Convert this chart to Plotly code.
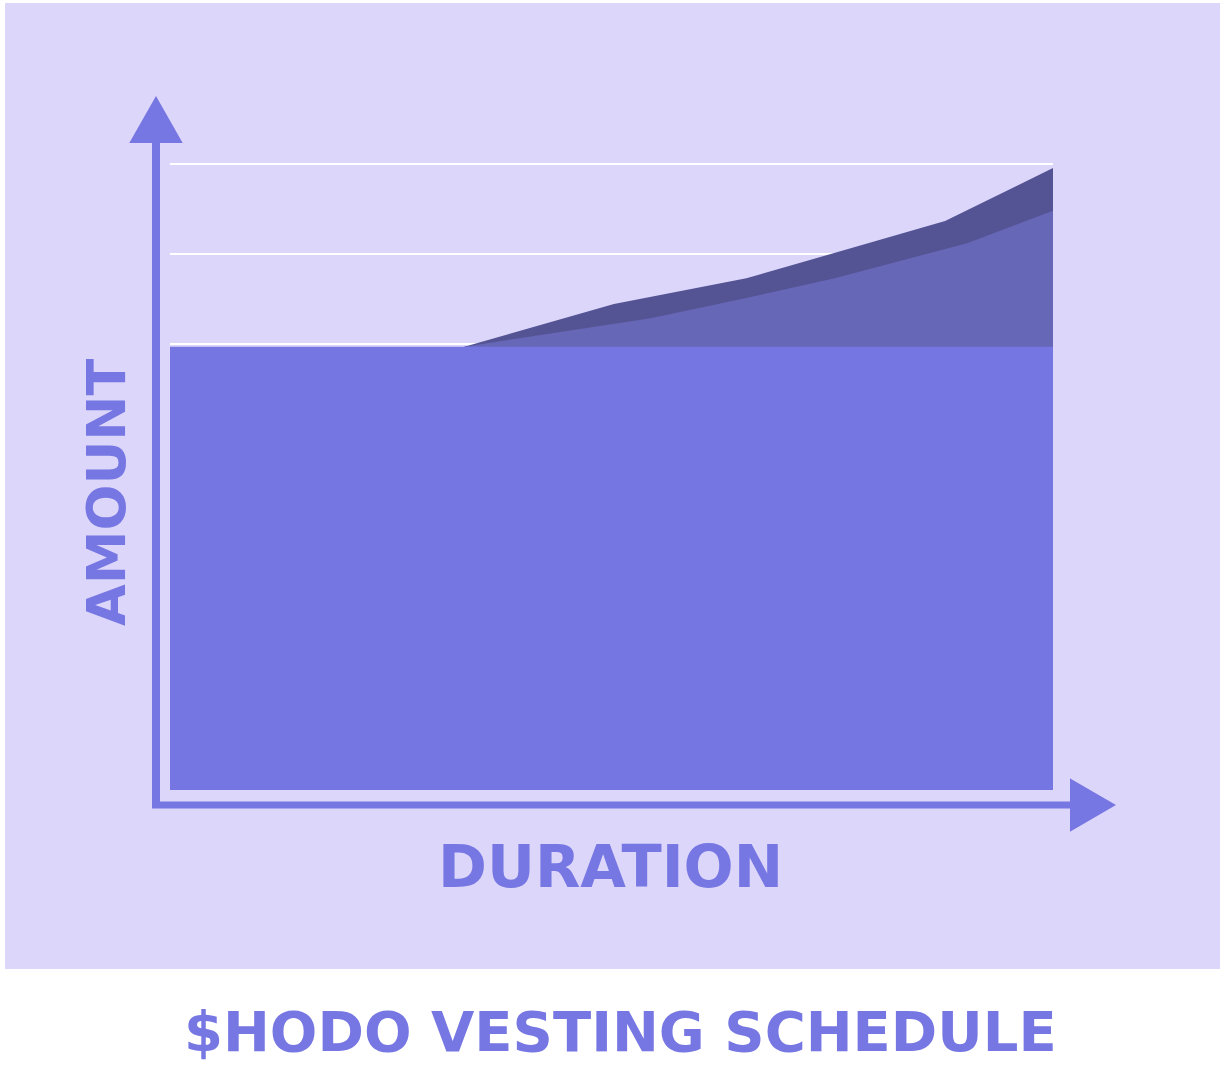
import plotly.graph_objects as go

# vesting schedule, x in months, y in token amount
base_x = [0, 36]
base_y = [98.5, 98.5]

mid_x = [12, 19.6, 23.5, 27.1, 32.5, 36]
mid_y = [98.5, 104.8, 109.3, 113.7, 121.5, 128.7]

top_x = [12, 18.1, 23.5, 31.6, 36]
top_y = [98.5, 108, 113.7, 126.4, 138.2]

W, H = 1224, 1068
L, T = 170, 150
R, B = W - 1053, H - 790
PW, PH = W - L - R, H - T - B

ACCENT = '#7777E3'
PANEL = '#DCD6FB'


def px(x):
    # screen pixel -> paper fraction
    return (x - L) / PW


def py(y):
    return (H - B - y) / PH


fig = go.Figure()

# back to front: darkest layer, middle layer, flat base
fig.add_trace(go.Scatter(x=top_x, y=top_y, mode='lines', fill='tozeroy',
                         line=dict(width=0, color='#545494'), fillcolor='#545494',
                         hoverinfo='skip', showlegend=False))
fig.add_trace(go.Scatter(x=mid_x, y=mid_y, mode='lines', fill='tozeroy',
                         line=dict(width=0, color='#6767B8'), fillcolor='#6767B8',
                         hoverinfo='skip', showlegend=False))
fig.add_trace(go.Scatter(x=base_x, y=base_y, mode='lines', fill='tozeroy',
                         line=dict(width=0, color='#7676E2'), fillcolor='#7676E2',
                         hoverinfo='skip', showlegend=False))

shapes = [
    # lavender panel
    dict(type='rect', xref='paper', yref='paper', layer='below',
         x0=px(5), x1=px(1220), y0=py(969), y1=py(3),
         fillcolor=PANEL, line=dict(width=0)),
    # y axis arrow
    dict(type='line', xref='paper', yref='paper', layer='above',
         x0=px(156), x1=px(156), y0=py(808), y1=py(140),
         line=dict(color=ACCENT, width=8)),
    dict(type='path', xref='paper', yref='paper', layer='above',
         path=f'M {px(131)},{py(142)} L {px(156)},{py(98)} L {px(181)},{py(142)} Z',
         fillcolor=ACCENT, line=dict(color=ACCENT, width=2)),
    # x axis arrow
    dict(type='line', xref='paper', yref='paper', layer='above',
         x0=px(152), x1=px(1072), y0=py(805), y1=py(805),
         line=dict(color=ACCENT, width=7)),
    dict(type='path', xref='paper', yref='paper', layer='above',
         path=f'M {px(1071)},{py(780)} L {px(1114)},{py(805)} L {px(1071)},{py(830)} Z',
         fillcolor=ACCENT, line=dict(color=ACCENT, width=2)),
]

annotations = [
    dict(text='AMOUNT', xref='paper', yref='paper', x=px(106), y=py(493),
         textangle=-90, showarrow=False, xanchor='center', yanchor='middle',
         font=dict(family='DejaVu Sans', size=54, color=ACCENT, weight='bold')),
    dict(text='DURATION', xref='paper', yref='paper', x=px(610), y=py(866),
         showarrow=False, xanchor='center', yanchor='middle',
         font=dict(family='DejaVu Sans', size=59, color=ACCENT, weight='bold')),
    dict(text='$HODO VESTING SCHEDULE', xref='paper', yref='paper', x=px(620), y=py(1031),
         showarrow=False, xanchor='center', yanchor='middle',
         font=dict(family='DejaVu Sans', size=56, color=ACCENT, weight='bold')),
]

fig.update_layout(
    width=W, height=H,
    margin=dict(l=L, r=R, t=T, b=B),
    paper_bgcolor='white',
    plot_bgcolor='rgba(0,0,0,0)',
    shapes=shapes,
    annotations=annotations,
    xaxis=dict(range=[0, 36], showgrid=False, zeroline=False,
               showticklabels=False, ticks='', fixedrange=True),
    yaxis=dict(range=[0, 142.2], tick0=-1, dtick=20, showgrid=True,
               gridcolor='white', gridwidth=1.5, zeroline=False,
               showticklabels=False, ticks='', fixedrange=True),
)

# drop the default page margin so the figure sits at the top-left corner
fig.write_html('out.html', config={'displayModeBar': False},
               post_script="document.body.style.margin='0';"
                           "document.body.style.overflow='hidden';")
